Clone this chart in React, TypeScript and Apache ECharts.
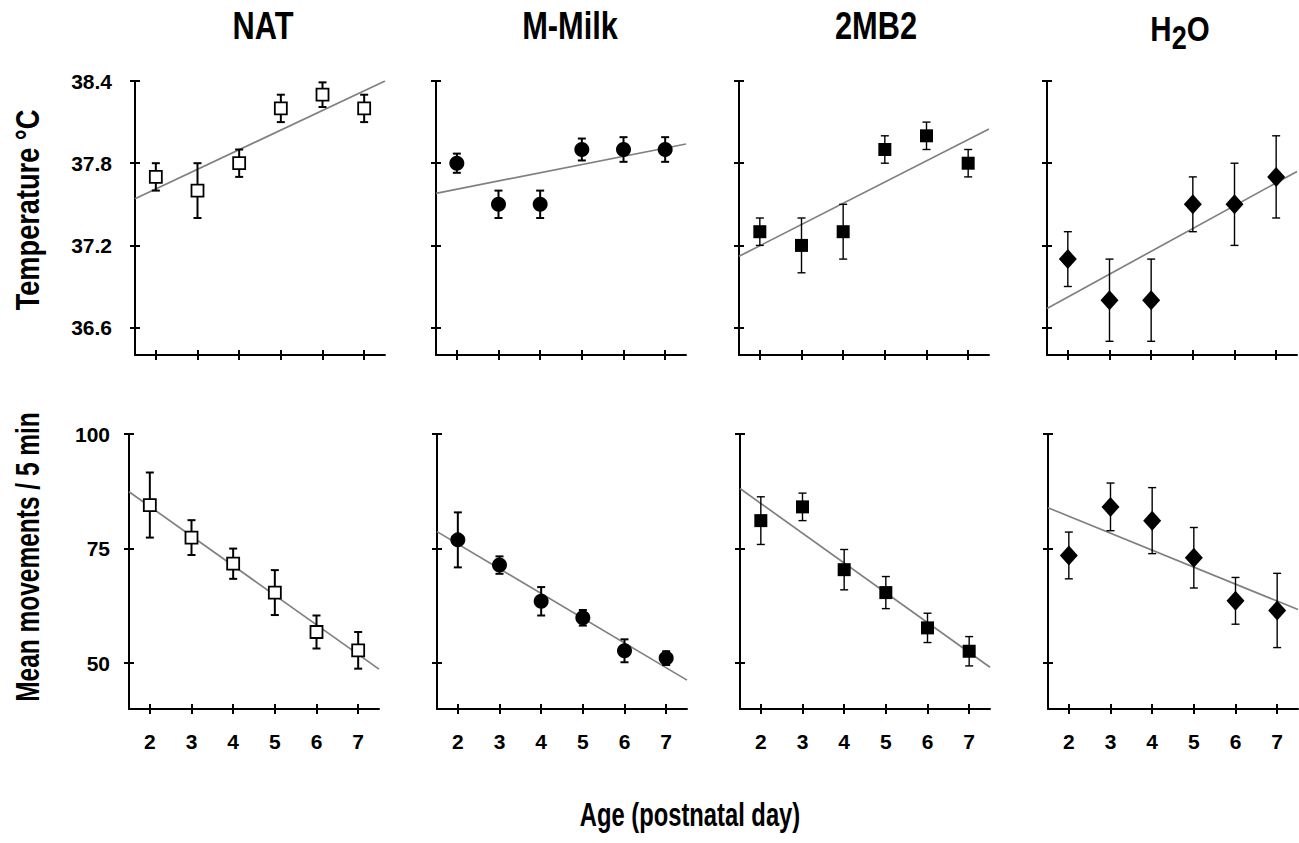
import React, { useEffect, useRef } from "react";
import * as echarts from "echarts";

// ---- data ----
const days = [2, 3, 4, 5, 6, 7];
const groupNames = ["NAT", "M-Milk", "2MB2", "H2O"];

const tempNAT = [37.7, 37.6, 37.8, 38.2, 38.3, 38.2];
const tempNATErr = [0.1, 0.2, 0.1, 0.1, 0.09, 0.1];
const tempMMilk = [37.8, 37.5, 37.5, 37.9, 37.9, 37.9];
const tempMMilkErr = [0.07, 0.1, 0.1, 0.08, 0.09, 0.09];
const temp2MB2 = [37.3, 37.2, 37.3, 37.9, 38.0, 37.8];
const temp2MB2Err = [0.1, 0.2, 0.2, 0.1, 0.1, 0.1];
const tempH2O = [37.1, 36.8, 36.8, 37.5, 37.5, 37.7];
const tempH2OErr = [0.2, 0.3, 0.3, 0.2, 0.3, 0.3];

const moveNAT = [84.5, 77.4, 71.7, 65.4, 56.8, 52.8];
const moveNATErr = [7.1, 3.8, 3.3, 4.9, 3.6, 4.0];
const moveMMilk = [76.9, 71.4, 63.5, 59.9, 52.7, 51.1];
const moveMMilkErr = [6.0, 1.9, 3.1, 1.7, 2.5, 1.5];
const move2MB2 = [81.1, 84.1, 70.4, 65.4, 57.7, 52.6];
const move2MB2Err = [5.2, 3.0, 4.4, 3.5, 3.2, 3.2];
const moveH2O = [73.5, 84.1, 81.1, 73.0, 63.6, 61.5];
const moveH2OErr = [5.1, 5.2, 7.2, 6.6, 5.1, 8.1];

// regression line end values at x = 1.5 and x = 7.5
const trendX = [1.5, 7.5];
const tempTrendNAT = [37.54, 38.4];
const tempTrendMMilk = [37.58, 37.94];
const tempTrend2MB2 = [37.12, 38.05];
const tempTrendH2O = [36.74, 37.74];
const moveTrendNAT = [87.4, 48.7];
const moveTrendMMilk = [78.7, 46.3];
const moveTrend2MB2 = [88.1, 49.1];
const moveTrendH2O = [83.9, 61.7];

const tempTicks = [36.6, 37.2, 37.8, 38.4];
const moveTicks = [50, 75, 100];

const panels = [
  { vals: tempNAT, errs: tempNATErr, trend: tempTrendNAT },
  { vals: tempMMilk, errs: tempMMilkErr, trend: tempTrendMMilk },
  { vals: temp2MB2, errs: temp2MB2Err, trend: tempTrend2MB2 },
  { vals: tempH2O, errs: tempH2OErr, trend: tempTrendH2O },
  { vals: moveNAT, errs: moveNATErr, trend: moveTrendNAT },
  { vals: moveMMilk, errs: moveMMilkErr, trend: moveTrendMMilk },
  { vals: move2MB2, errs: move2MB2Err, trend: moveTrend2MB2 },
  { vals: moveH2O, errs: moveH2OErr, trend: moveTrendH2O },
];

// styles (per column)
const markerStyles = [
  { symbol: "rect", size: 12, itemStyle: { color: "#fff", borderColor: "#000", borderWidth: 1.8, opacity: 1 } },
  { symbol: "circle", size: 15, itemStyle: { color: "#000", opacity: 1 } },
  { symbol: "rect", size: 13, itemStyle: { color: "#000", opacity: 1 } },
  { symbol: "diamond", size: [18, 20], itemStyle: { color: "#000", opacity: 1 } },
];
const errWidths = [2, 2, 1.4, 1.4];

const topLefts = [135, 436, 739, 1047];
const bottomLefts = [129, 437, 740, 1048];

const FONT = "'Liberation Sans', Arial, sans-serif";

export default function App() {
  const ref = useRef<HTMLDivElement>(null);
  useEffect(() => {
    if (!ref.current) return;
    const chart = echarts.init(ref.current, null, { renderer: "svg" });

    const grid: any[] = [];
    const xAxis: any[] = [];
    const yAxis: any[] = [];
    const series: any[] = [];
    const axisLine = { show: true, onZero: false, lineStyle: { color: "#000", width: 2 } };
    const tickLine = { color: "#000", width: 2 };

    for (let g = 0; g < 8; g++) {
      const row = g < 4 ? 0 : 1;
      const col = g % 4;
      grid.push(
        row === 0
          ? { left: topLefts[col], top: 81, width: 250, height: 274 }
          : { left: bottomLefts[col], top: 434, width: 250, height: 275 }
      );
      const yMin = row === 0 ? 36.4 : 40;
      const yMax = row === 0 ? 38.4 : 100;
      const yTicks = row === 0 ? tempTicks : moveTicks;
      xAxis.push({
        gridIndex: g, type: "value", min: 1.5, max: 7.5, position: "bottom",
        axisLine, splitLine: { show: false },
        axisTick: { show: true, customValues: days, length: 5, lineStyle: tickLine },
        axisLabel: {
          show: row === 1, customValues: days, margin: 22, fontSize: 21, fontWeight: "bold",
          color: "#000", fontFamily: FONT,
        },
      });
      xAxis.push({
        gridIndex: g, type: "value", min: 1.5, max: 7.5, position: "bottom",
        axisLine: { show: false }, splitLine: { show: false },
        axisTick: { show: true, inside: true, customValues: days, length: 5, lineStyle: tickLine },
        axisLabel: { show: false },
      });
      yAxis.push({
        gridIndex: g, type: "value", min: yMin, max: yMax, position: "left",
        axisLine, splitLine: { show: false },
        axisTick: { show: true, customValues: yTicks, length: 5, lineStyle: tickLine },
        axisLabel: {
          show: col === 0, customValues: yTicks, margin: row === 0 ? 23 : 19, fontSize: 21,
          fontWeight: "bold", color: "#000", fontFamily: FONT,
          formatter: (v: number) => (row === 0 ? v.toFixed(1) : String(Math.round(v))),
        },
      });
      yAxis.push({
        gridIndex: g, type: "value", min: yMin, max: yMax, position: "left",
        axisLine: { show: false }, splitLine: { show: false },
        axisTick: { show: true, inside: true, customValues: yTicks, length: 5, lineStyle: tickLine },
        axisLabel: { show: false },
      });

      const p = panels[g];
      const ms = markerStyles[col];
      const ew = errWidths[col];
      series.push({
        type: "line", xAxisIndex: 2 * g, yAxisIndex: 2 * g, silent: true, z: 2,
        symbol: "none", data: trendX.map((x, k) => [x, p.trend[k]]),
        lineStyle: { color: "#808080", width: 1.7 },
      });
      series.push({
        type: "custom", xAxisIndex: 2 * g, yAxisIndex: 2 * g, silent: true, z: 3,
        data: days.map((d, k) => [d, p.vals[k], p.errs[k]]),
        encode: { x: 0, y: 1 },
        renderItem: (params: any, api: any) => {
          const x = api.value(0), y = api.value(1), e = api.value(2);
          const t = api.coord([x, y + e]);
          const b = api.coord([x, y - e]);
          const w = 4;
          const st = { stroke: "#000", lineWidth: ew };
          return {
            type: "group",
            children: [
              { type: "line", shape: { x1: t[0], y1: t[1], x2: b[0], y2: b[1] }, style: st },
              { type: "line", shape: { x1: t[0] - w, y1: t[1], x2: t[0] + w, y2: t[1] }, style: st },
              { type: "line", shape: { x1: b[0] - w, y1: b[1], x2: b[0] + w, y2: b[1] }, style: st },
            ],
          };
        },
      });
      series.push({
        type: "scatter", xAxisIndex: 2 * g, yAxisIndex: 2 * g, silent: true, z: 4,
        symbol: ms.symbol, symbolSize: ms.size, itemStyle: ms.itemStyle,
        data: days.map((d, k) => [d, p.vals[k]]),
      });
    }

    const titleX = [263, 570, 876, 1180];
    const bigFont = (size: number) => `bold ${size}px ${FONT}`;
    const graphic: any[] = [];
    groupNames.forEach((name, i) => {
      if (name === "H2O") {
        graphic.push({
          type: "text", x: titleX[i], y: 28, scaleX: 0.82,
          style: {
            text: "{h|H}{s|2}{h|O}", textAlign: "center", textVerticalAlign: "middle",
            rich: {
              h: { font: bigFont(36), fill: "#000" },
              s: { font: bigFont(33), fill: "#000", padding: [20, 0, 0, 0] },
            },
          },
        });
      } else {
        graphic.push({
          type: "text", x: titleX[i], y: 26, scaleX: 0.81,
          style: { text: name, font: bigFont(38), fill: "#000", textAlign: "center", textVerticalAlign: "middle" },
        });
      }
    });
    graphic.push({
      type: "text", x: 27, y: 210, rotation: Math.PI / 2, scaleX: 0.8,
      style: { text: "Temperature °C", font: bigFont(34), fill: "#000", textAlign: "center", textVerticalAlign: "middle" },
    });
    graphic.push({
      type: "text", x: 27, y: 557, rotation: Math.PI / 2, scaleX: 0.72,
      style: { text: "Mean movements / 5 min", font: bigFont(34), fill: "#000", textAlign: "center", textVerticalAlign: "middle" },
    });
    graphic.push({
      type: "text", x: 690, y: 815, scaleX: 0.72,
      style: { text: "Age (postnatal day)", font: bigFont(33), fill: "#000", textAlign: "center", textVerticalAlign: "middle" },
    });

    chart.setOption({ animation: false, backgroundColor: "#fff", grid, xAxis, yAxis, series, graphic });
    return () => chart.dispose();
  }, []);
  return (
    <div
      ref={ref}
      style={{ position: "absolute", left: 0, top: 0, width: 1299, height: 843 }}
    />
  );
}
